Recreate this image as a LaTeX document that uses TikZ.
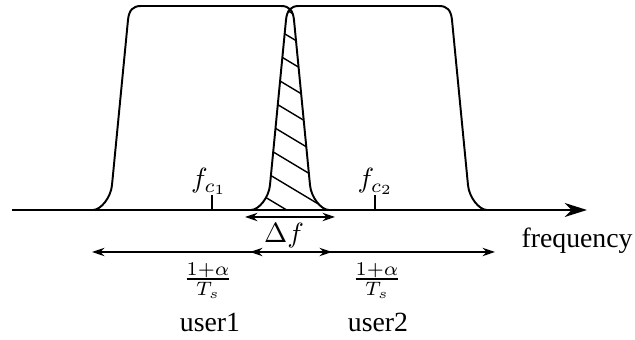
\documentclass[tikz,border=0pt]{standalone}
\usepackage{amsmath,amssymb}
\usepackage{fontspec}
\setmainfont{Liberation Serif}
\newfontfamily\serifrm{Liberation Serif}
\usepackage{tikz}
\usetikzlibrary{arrows.meta,positioning,calc}
\tikzset{
  curve/.style={line width=0.7pt, black},
  hatch/.style={line width=0.5pt, black},
  axis/.style={-{Stealth[length=8pt,width=5pt,inset=2.5pt]}, line width=0.9pt},
  dimarrow/.style={{Stealth[length=4.5pt,width=3pt]}-{Stealth[length=4.5pt,width=3pt]}, line width=0.7pt},
  tick/.style={line width=0.6pt},
  label/.style={inner sep=0pt, anchor=base, font=\serifrm},
  pulse/.style={insert path={({#1-118},210) .. controls ({#1-110},210) and ({#1-100},197) .. ({#1-99},185)
      -- ({#1-83},20) .. controls ({#1-82},10) and ({#1-78},6) .. ({#1-70},6)
      -- ({#1+70},6) .. controls ({#1+78},6) and ({#1+82},10) .. ({#1+83},20)
      -- ({#1+99},185) .. controls ({#1+100},197) and ({#1+110},210) .. ({#1+118},210)}},
}

\begin{document}
\begin{tikzpicture}[x=0.36pt, y=-0.36pt]
\useasboundingbox (0,0) rectangle (635,340);

% spectra of the two users
\draw[curve] [pulse=211];
\draw[curve] [pulse=369];

% overlap
\begin{scope}
  \clip [pulse=211];
  \clip [pulse=369];
  \foreach \k in {0,...,9}
    \draw[hatch] (250,{188-25*\k}) -- (340,{242-25*\k});
\end{scope}

\coordinate (axisL) at (12,210);
\coordinate (axisR) at (587,210);
\draw[axis] (axisL) -- (axisR);
\node[label, anchor=base west] (freq) at (521,248) {frequency};

% carriers
\coordinate (fc1) at (212,210);
\coordinate (fc2) at (375,210);
\draw[tick] (fc1) -- ++(0,-15) coordinate (fc1top);
\draw[tick] (fc2) -- ++(0,-15) coordinate (fc2top);
\node[label] (fc1lab) at (209,188) {$f_{c_1}$};
\node[label] (fc2lab) at (375.5,188) {$f_{c_2}$};

% spacing
\coordinate (dfL) at (245,217);
\coordinate (dfR) at (335,217);
\draw[dimarrow] (dfL) -- (dfR);
\node[label] (df) at (284,243) {$\Delta f$};

% bandwidths
\coordinate (bw1L) at (92,252);
\coordinate (bw1R) at (332,252);
\coordinate (bw2L) at (250,252);
\coordinate (bw2R) at (495,252);
\draw[dimarrow] (bw1L) -- (bw1R);
\draw[dimarrow] (bw2L) -- (bw2R);
\node[label] (bw1) at (208,286) {$\frac{1+\alpha}{T_s}$};
\node[label] (bw2) at (377,286) {$\frac{1+\alpha}{T_s}$};

\node[label] (user1) at (210,332) {user1};
\node[label] (user2) at (378,332) {user2};
\end{tikzpicture}
\end{document}
